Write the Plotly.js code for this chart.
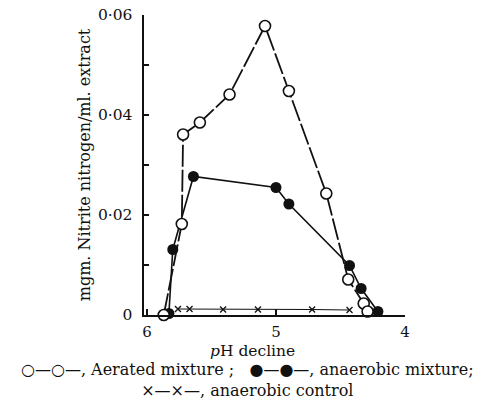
<!DOCTYPE html>
<html>
<head>
<meta charset="utf-8">
<script src="https://cdn.plot.ly/plotly-3.0.1.min.js"></script>
<style>html,body{margin:0;padding:0;background:#fff}#chart{width:492px;height:403px}</style>
</head>
<body>
<div id="chart"></div>
<script>
// Aerated mixture (open circles)
var aeratedPH  = [5.87, 5.73, 5.72, 5.59, 5.36, 5.085, 4.90, 4.61, 4.44, 4.32, 4.29];
var aeratedVal = [0.0, 0.0182, 0.0361, 0.0385, 0.0441, 0.0578, 0.0448, 0.0243, 0.0071, 0.0023, 0.0007];
// Anaerobic mixture (filled circles)
var anaerPH  = [5.83, 5.80, 5.64, 5.00, 4.90, 4.43, 4.34, 4.21];
var anaerVal = [0.0003, 0.0131, 0.0277, 0.0255, 0.0222, 0.0099, 0.0053, 0.0007];
// Anaerobic control (crosses)
var controlPH  = [5.76, 5.67, 5.41, 5.14, 4.72, 4.43];
var controlVal = [0.0012, 0.0012, 0.0011, 0.0011, 0.0011, 0.0010];
// Axis ticks
var yTickVals = [0, 0.01, 0.02, 0.03, 0.04, 0.05, 0.06];
var yTickText = ['0', '', '0·02', '', '0·04', '', '0·06'];
var xTickVals = [6, 5, 4];
var xTickText = ['6', '5', '4'];
// Key text
var keyLine1 = '○—○—, Aerated mixture ;\u00A0\u00A0\u00A0●—●—, anaerobic mixture;';
var keyLine2 = '×—×—, anaerobic control';

var FONT = 'DejaVu Serif, Liberation Serif, serif';

var traces = [
  {x: controlPH, y: controlVal, mode: 'lines+markers', cliponaxis: false,
   line: {color: '#111', width: 1.2},
   marker: {symbol: 'x-thin', size: 6, color: '#111', line: {color: '#111', width: 1.3}}},
  {x: anaerPH, y: anaerVal, mode: 'lines+markers', cliponaxis: false,
   line: {color: '#111', width: 1.6},
   marker: {symbol: 'circle', size: 11, color: '#111'}},
  {x: aeratedPH, y: aeratedVal, mode: 'lines+markers', cliponaxis: false,
   line: {color: '#111', width: 1.8, dash: '22px,3px'},
   marker: {symbol: 'circle', size: 11, color: '#fff', line: {color: '#111', width: 1.6}}}
];

var layout = {
  width: 492, height: 403,
  margin: {l: 144, r: 87, t: 15, b: 88},
  paper_bgcolor: '#fff', plot_bgcolor: '#fff',
  showlegend: false,
  font: {family: FONT, size: 16, color: '#111'},
  xaxis: {
    range: [6.023, 4.0], tickvals: xTickVals, ticktext: xTickText,
    ticks: 'inside', ticklen: 6, tickwidth: 1.5, tickcolor: '#111',
    showline: true, linecolor: '#111', linewidth: 2, showgrid: false, zeroline: false,
    ticklabelstandoff: 2,
    tickfont: {family: FONT, size: 15, color: '#111'}
  },
  yaxis: {
    range: [0, 0.06], tickvals: yTickVals, ticktext: yTickText,
    ticks: 'inside', ticklen: 5, tickwidth: 1.2, tickcolor: '#111',
    showline: true, linecolor: '#111', linewidth: 2.5, showgrid: false, zeroline: false,
    ticklabelstandoff: 6,
    tickfont: {family: FONT, size: 15.5, color: '#111'},
    title: {text: 'mgm. Nitrite nitrogen/ml. extract', font: {family: FONT, size: 16, color: '#111'}, standoff: 4}
  },
  annotations: [
    {xref: 'paper', yref: 'paper', x: 0.414, y: -0.12, xanchor: 'center', yanchor: 'middle', showarrow: false,
     text: '<i>p</i>H decline', font: {family: FONT, size: 15.5, color: '#111'}},
    {xref: 'paper', yref: 'paper', x: 0.395, y: -0.218, xanchor: 'center', yanchor: 'middle', showarrow: false,
     align: 'center',
     text: keyLine1 + '<br>' + keyLine2, font: {family: FONT, size: 16, color: '#111'}}
  ]
};

Plotly.newPlot('chart', traces, layout, {displayModeBar: false, staticPlot: true});
</script>
</body>
</html>
